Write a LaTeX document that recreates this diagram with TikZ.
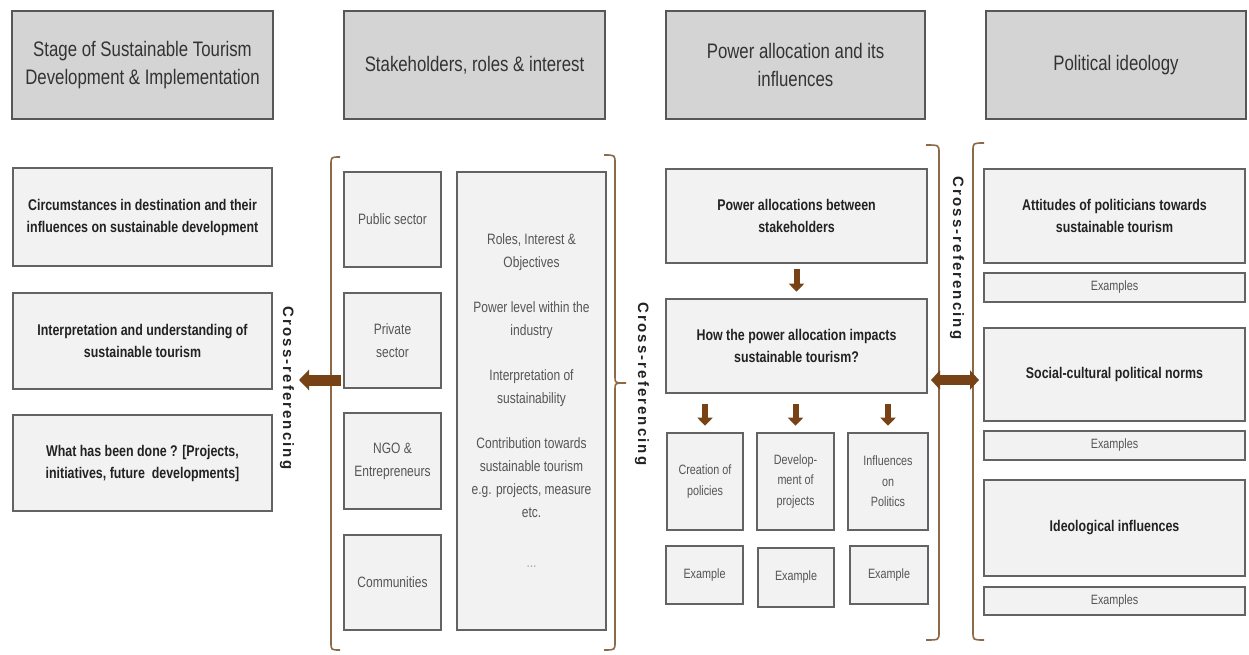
\documentclass[tikz,border=0pt]{standalone}
\usepackage{fontspec}
\setmainfont[FakeStretch=0.8]{Liberation Sans}
\newfontfamily\crossfont[LetterSpace=14]{Liberation Sans}
\usetikzlibrary{arrows.meta}
\definecolor{hdrfill}{HTML}{D4D4D4}
\definecolor{hdrline}{HTML}{575757}
\definecolor{boxfill}{HTML}{F2F2F2}
\definecolor{boxline}{HTML}{636363}
\definecolor{hdrtext}{HTML}{333333}
\definecolor{darktext}{HTML}{222222}
\definecolor{greytext}{HTML}{555555}
\definecolor{arrowbrown}{RGB}{118,66,22}
\definecolor{bracebrown}{RGB}{140,106,72}
\begin{document}
\begin{tikzpicture}[x=1pt,y=-1pt,
  hbox/.style={draw=hdrline, fill=hdrfill, line width=2.6pt, align=center, text=hdrtext,
    font=\fontsize{21}{28}\selectfont, inner sep=0pt},
  cbox/.style={draw=boxline, fill=boxfill, line width=2.6pt, align=center, inner sep=0pt},
  boldtxt/.style={font=\fontsize{15.5}{22}\selectfont\bfseries, text=darktext},
  regtxt/.style={font=\fontsize{15}{23}\selectfont, text=greytext},
  smalltxt/.style={font=\fontsize{13.5}{20.5}\selectfont, text=greytext},
  crossref/.style={font=\crossfont\bfseries\fontsize{15}{15}\selectfont, rotate=-90, text=darktext, inner sep=0pt},
  brk/.style={draw=bracebrown, line width=1.6pt},
  bigarrow/.style={draw=arrowbrown, line width=11pt, -{Triangle[width=20pt,length=10pt]}},
  dblarrow/.style={draw=arrowbrown, line width=10pt, {Triangle[width=19pt,length=9pt]}-{Triangle[width=19pt,length=9pt]}},
  downarrow/.style={draw=arrowbrown, line width=6pt, -{Triangle[width=15pt,length=8pt]}}
]
\useasboundingbox[fill=white] (0,0) rectangle (1249,655);

% headers
\node[hbox, minimum width=261pt, minimum height=108pt] (h1) at (142.5,65) {Stage of Sustainable Tourism\\Development \& Implementation};
\node[hbox, minimum width=261pt, minimum height=108pt] (h2) at (474.5,65) {Stakeholders, roles \& interest};
\node[hbox, minimum width=259pt, minimum height=108pt] (h3) at (795.5,65) {Power allocation and its\\influences};
\node[hbox, minimum width=260pt, minimum height=108pt] (h4) at (1116,65) {Political ideology};

% column 1
\node[cbox, boldtxt, minimum width=259pt, minimum height=98pt] (l1) at (142.5,217) {Circumstances in destination and their\\influences on sustainable development};
\node[cbox, boldtxt, minimum width=259pt, minimum height=96pt] (l2) at (142.5,341) {Interpretation and understanding of\\sustainable tourism};
\node[cbox, boldtxt, minimum width=259pt, minimum height=96pt] (l3) at (142.5,463) {What has been done ? [Projects,\\initiatives, future \ developments]};
\node[crossref] (x1) at (287,388) {Cross-referencing};

% column 2
\node[cbox, regtxt, minimum width=97pt, minimum height=95pt] (m1) at (392.5,219.5) {Public sector};
\node[cbox, regtxt, minimum width=97pt, minimum height=95pt] (m2) at (392.5,340.5) {Private\\sector};
\node[cbox, regtxt, minimum width=97pt, minimum height=96pt] (m3) at (392.5,461) {NGO \&\\Entrepreneurs};
\node[cbox, regtxt, minimum width=97pt, minimum height=95pt] (m4) at (392.5,582.5) {Communities};
\node[cbox, regtxt, minimum width=149pt, minimum height=458pt] (mb) at (531.5,401) {Roles, Interest \&\\Objectives\\[22pt]Power level within the\\industry\\[22pt]Interpretation of\\sustainability\\[22pt]Contribution towards\\sustainable tourism\\e.g. projects, measure\\etc.\\[27pt]{\color{gray!70}...}};
\node[crossref] (x2) at (642,384) {Cross-referencing};

% column 3
\node[cbox, boldtxt, minimum width=261pt, minimum height=94pt] (p1) at (796.5,216) {Power allocations between\\stakeholders};
\node[cbox, boldtxt, minimum width=261pt, minimum height=94pt] (p2) at (796.5,346) {How the power allocation impacts\\sustainable tourism?};
\node[cbox, smalltxt, minimum width=76pt, minimum height=97pt] (s1) at (705,481.5) {Creation of\\policies};
\node[cbox, smalltxt, minimum width=77pt, minimum height=97pt] (s2) at (795.5,481.5) {Develop-\\ment of\\projects};
\node[cbox, smalltxt, minimum width=80pt, minimum height=97pt] (s3) at (888,481.5) {Influences\\on\\Politics};
\node[cbox, smalltxt, minimum width=77pt, minimum height=58pt] (e1) at (704.5,575) {Example};
\node[cbox, smalltxt, minimum width=76pt, minimum height=59pt] (e2) at (796,577.5) {Example};
\node[cbox, smalltxt, minimum width=78pt, minimum height=58pt] (e3) at (889,575) {Example};
\node[crossref] (x3) at (957,258) {Cross-referencing};

% column 4
\node[cbox, boldtxt, minimum width=261pt, minimum height=94pt] (q1) at (1114.5,216) {Attitudes of politicians towards\\sustainable tourism};
\node[cbox, smalltxt, minimum width=261pt, minimum height=29pt] (f1) at (1114.5,287.5) {Examples};
\node[cbox, boldtxt, minimum width=261pt, minimum height=93pt] (q2) at (1114.5,374.5) {Social-cultural political norms};
\node[cbox, smalltxt, minimum width=261pt, minimum height=29pt] (f2) at (1114.5,445.5) {Examples};
\node[cbox, boldtxt, minimum width=261pt, minimum height=96pt] (q3) at (1114.5,528) {Ideological influences};
\node[cbox, smalltxt, minimum width=261pt, minimum height=28pt] (f3) at (1114.5,601) {Examples};

% braces
\draw[brk] (340,157) .. controls (331,157) .. (331,165) -- (331,374) .. controls (331,380) .. (325,380) .. controls (331,380) .. (331,386) -- (331,642) .. controls (331,650) .. (340,650);
\draw[brk] (604,155) .. controls (615,155) .. (615,163) -- (615,377) .. controls (615,383) .. (626,383) .. controls (615,383) .. (615,389) -- (615,642) .. controls (615,650) .. (604,650);
\draw[brk] (926,145) .. controls (939,145) .. (939,153) -- (939,374) .. controls (939,380) .. (945,380) .. controls (939,380) .. (939,386) -- (939,632) .. controls (939,640) .. (926,640);
\draw[brk] (984,143) .. controls (973,143) .. (973,151) -- (973,374) .. controls (973,380) .. (967,380) .. controls (973,380) .. (973,386) -- (973,632) .. controls (973,640) .. (984,640);

% arrows
\coordinate (la-s) at (341,380);
\coordinate (la-e) at (299,380);
\draw[bigarrow] (la-s) -- (la-e);
\coordinate (da-l) at (931,380);
\coordinate (da-r) at (979,380);
\draw[dblarrow] (da-l) -- (da-r);

\draw[downarrow] ([yshift=-5pt]p1.south) -- ([yshift=6pt]p2.north);
\coordinate (t1) at (p2.south -| s1.north);
\coordinate (t2) at (p2.south -| s2.north);
\coordinate (t3) at (p2.south -| s3.north);
\draw[downarrow] ([yshift=-10pt]t1) -- ([yshift=6pt]s1.north);
\draw[downarrow] ([yshift=-10pt]t2) -- ([yshift=6pt]s2.north);
\draw[downarrow] ([yshift=-10pt]t3) -- ([yshift=6pt]s3.north);
\end{tikzpicture}
\end{document}
